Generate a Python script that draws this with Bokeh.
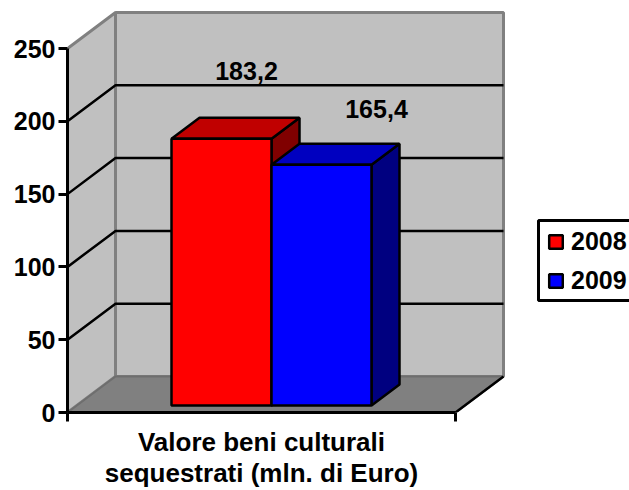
from bokeh.embed import file_html
from bokeh.resources import INLINE
from bokeh.plotting import figure
from bokeh.models import Range1d, FixedTicker, Legend, LegendItem, LinearAxis
from bokeh.core.properties import value

# ---- data
series = ["2008", "2009"]
values = [183.2, 165.4]
value_labels = ["183,2", "165,4"]
front_colors = ["#FF0000", "#0000FF"]
top_colors = ["#C00000", "#0000C0"]
side_colors = ["#800000", "#000080"]
y_ticks = [0, 50, 100, 150, 200, 250]
grid_values = [50, 100, 150, 200]
category_lines = ["Valore beni culturali", "sequestrati (mln. di Euro)"]

# ---- layout (pixels of the drawing)
FONT = "Liberation Sans"
FONT_SIZE = "26px"
NUM_SIZE = "25px"
W, H = 629, 490
LEFT, AXIS_BOTTOM = 67, 412
PX = 1.456                 # pixels per unit of value
FLOOR_W = 388              # front edge length of the floor
DX, DY = 48, 36            # depth of the box
BAR_W = 100
BAR_X0 = 171
BAR_DX, BAR_DY = 28, 21    # depth of each bar
BAR_SHIFT = 7              # bar base above the front edge
TOP = 250


def v(px):
    return px / PX


p = figure(width=W, height=H, output_backend="svg", toolbar_location=None,
           x_range=Range1d(LEFT, W), y_range=Range1d(0, AXIS_BOTTOM / PX),
           min_border_left=LEFT, min_border_right=0, min_border_top=0,
           min_border_bottom=H - AXIS_BOTTOM, outline_line_color=None,
           margin=(0, 0, 0, 0), background_fill_color="white",
           border_fill_color="white")
p.grid.visible = False

x0, x1 = LEFT, LEFT + FLOOR_W
back0, back1 = x0 + DX, x1 + DX
dy = v(DY)

# side wall, back wall, floor
p.patch([x0, back0, back0, x0], [TOP, TOP + dy, dy, 0],
        fill_color="#C0C0C0", line_color="#808080", line_width=3)
p.patch([back0, back1, back1, back0], [dy, dy, TOP + dy, TOP + dy],
        fill_color="#C0C0C0", line_color="#808080", line_width=3)
p.patch([x0, back0, back1, x1], [0, dy, dy, 0],
        fill_color="#808080", line_color="#6E6E6E", line_width=2)
p.line([x1, back1], [0, dy], line_color="black", line_width=2.5)

# grid lines
p.multi_line([[x0, back0, back1] for _ in grid_values],
             [[g, g + dy, g + dy] for g in grid_values],
             line_color="black", line_width=2.5)

# legend box (its right side runs off the picture, as in the reference)
p.quad(left=538, right=W + 10, bottom=v(AXIS_BOTTOM - 300), top=v(AXIS_BOTTOM - 220),
       fill_color="white", line_color="black", line_width=3)

# bars
base = v(BAR_SHIFT)
bdx, bdy = BAR_DX, v(BAR_DY)
legend_items = []
for i, val in enumerate(values):
    l = BAR_X0 + i * BAR_W
    r = l + BAR_W
    t = val + base
    p.patch([r, r + bdx, r + bdx, r], [base, base + bdy, t + bdy, t],
            fill_color=side_colors[i], line_color="black", line_width=2.5)
    p.patch([l, l + bdx, r + bdx, r], [t, t + bdy, t + bdy, t],
            fill_color=top_colors[i], line_color="black", line_width=2.5)
    front = p.quad(left=l, right=r, bottom=base, top=t,
                   fill_color=front_colors[i], line_color="black", line_width=2.5)
    legend_items.append(LegendItem(label=series[i], renderers=[front]))

# value labels
label_x = [BAR_X0 + 0.5 * BAR_W + 25, BAR_X0 + 1.5 * BAR_W + 55]
label_y = [values[0] + v(75), values[1] + v(63)]
p.text(label_x, label_y, text=value_labels, text_font=value(FONT),
       text_font_style="bold", text_font_size=NUM_SIZE, text_align="center",
       text_baseline="alphabetic", text_color="black")

# axes
ya = p.yaxis[0]
ya.ticker = FixedTicker(ticks=y_ticks)
ya.bounds = (0, TOP)
ya.axis_line_width = 3
ya.major_tick_line_width = 3
ya.major_tick_out = 9
ya.major_tick_in = 0
ya.minor_tick_line_color = None
ya.major_label_standoff = 3
ya.major_label_text_font = FONT
ya.major_label_text_font_style = "bold"
ya.major_label_text_font_size = NUM_SIZE
ya.major_label_text_color = "black"

xa = p.xaxis[0]
xa.ticker = FixedTicker(ticks=[x0, x1])
xa.bounds = (x0, x1)
xa.axis_line_width = 3
xa.major_tick_line_width = 3
xa.major_tick_out = 9
xa.major_tick_in = 0
xa.minor_tick_line_color = None
xa.major_label_text_font_size = "0px"
xa.major_label_text_color = None

# category label under the floor: one stacked axis per line of text
center = (x0 + x1) / 2
for line, standoff in zip(category_lines, [5, -2]):
    ax = LinearAxis(ticker=FixedTicker(ticks=[center]),
                    major_label_overrides={center: line},
                    axis_line_color=None, major_tick_line_color=None,
                    minor_tick_line_color=None, major_tick_out=0, major_tick_in=0,
                    major_label_standoff=standoff, major_label_text_font=FONT,
                    major_label_text_font_style="bold",
                    major_label_text_font_size=FONT_SIZE,
                    major_label_text_color="black")
    p.add_layout(ax, "below")

# legend entries
legend = Legend(items=legend_items, location=(480, 117), orientation="vertical",
                border_line_color=None, background_fill_alpha=0, margin=0, padding=9,
                spacing=10, glyph_width=17, glyph_height=17, label_standoff=7,
                label_text_font=FONT, label_text_font_style="bold",
                label_text_font_size=NUM_SIZE, label_text_color="black",
                label_height=22, label_width=58)
p.add_layout(legend, "center")

open("out.html", "w").write(file_html(p, INLINE))
